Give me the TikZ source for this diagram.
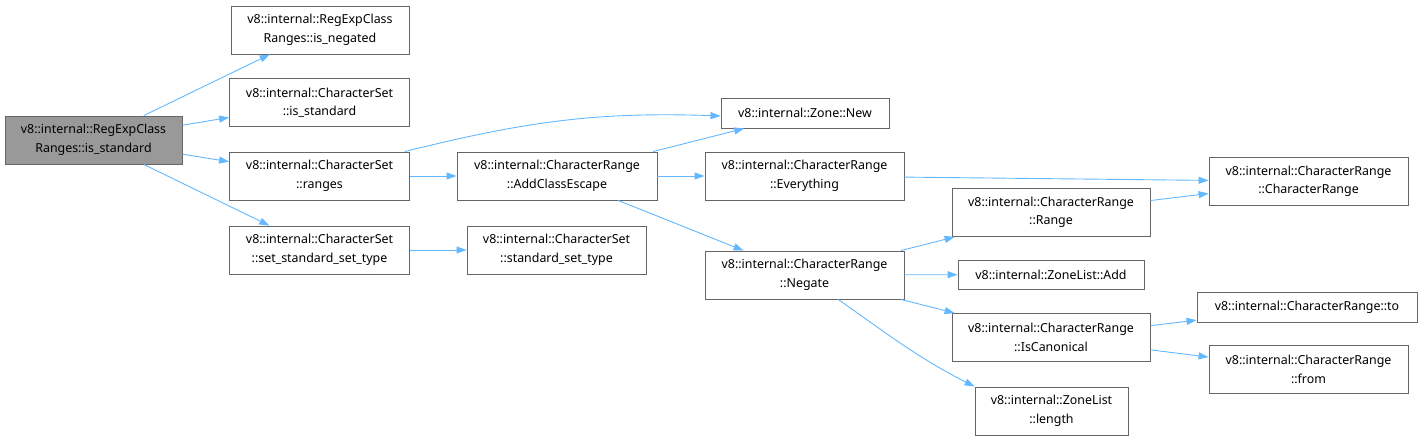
\documentclass[tikz,border=0pt]{standalone}
\usepackage{fontspec}
\setmainfont{Noto Sans}
\usetikzlibrary{arrows.meta}
\definecolor{edgeblue}{HTML}{63B8FF}
\definecolor{boxgray}{HTML}{666666}
\definecolor{maingray}{HTML}{999999}
\begin{document}
\begin{tikzpicture}[x=1pt,y=-1pt,>={Triangle[length=10pt,width=7pt]},
    fn/.style={draw=boxgray,line width=0.9pt,align=center,inner sep=0pt,minimum height=48pt,
        font=\fontsize{12.4}{18.5}\selectfont},
    edge/.style={->,draw=edgeblue,line width=0.9pt}]
    \useasboundingbox (0,0) rectangle (1426,441);
    \node[fn,fill=maingray,minimum width=177pt] (main) at (93.5,140) {v8::internal::RegExpClass\\Ranges::is\_standard};
    \node[fn,minimum width=178pt] (negated) at (320,30) {v8::internal::RegExpClass\\Ranges::is\_negated};
    \node[fn,minimum width=180pt] (csstd) at (319.5,102.5) {v8::internal::CharacterSet\\::is\_standard};
    \node[fn,minimum width=180pt] (ranges) at (319.5,176) {v8::internal::CharacterSet\\::ranges};
    \node[fn,minimum width=180pt] (setstd) at (319.5,250) {v8::internal::CharacterSet\\::set\_standard\_set\_type};
    \node[fn,minimum width=179pt] (stdtype) at (556.5,250) {v8::internal::CharacterSet\\::standard\_set\_type};
    \node[fn,minimum width=200pt] (addesc) at (557,176) {v8::internal::CharacterRange\\::AddClassEscape};
    \node[fn,minimum width=168pt,minimum height=30pt] (zonenew) at (805,113) {v8::internal::Zone::New};
    \node[fn,minimum width=199pt] (every) at (804.5,176) {v8::internal::CharacterRange\\::Everything};
    \node[fn,minimum width=199pt] (negate) at (804.5,275) {v8::internal::CharacterRange\\::Negate};
    \node[fn,minimum width=199pt] (crange) at (1308.5,181.5) {v8::internal::CharacterRange\\::CharacterRange};
    \node[fn,minimum width=198pt] (range) at (1051,212.5) {v8::internal::CharacterRange\\::Range};
    \node[fn,minimum width=186pt,minimum height=29pt] (add) at (1051,274.5) {v8::internal::ZoneList::Add};
    \node[fn,minimum width=198pt] (iscanon) at (1051,337.5) {v8::internal::CharacterRange\\::IsCanonical};
    \node[fn,minimum width=220pt,minimum height=30pt] (to) at (1307,307) {v8::internal::CharacterRange::to};
    \node[fn,minimum width=199pt] (from) at (1308.5,369.5) {v8::internal::CharacterRange\\::from};
    \node[fn,minimum width=153pt] (length) at (1051.5,411) {v8::internal::ZoneList\\::length};
    % calls
    \foreach \a/\b in {main/negated, main/csstd, main/ranges, main/setstd, ranges/addesc,
        setstd/stdtype, addesc/zonenew, addesc/every, addesc/negate, every/crange,
        range/crange, negate/range, negate/add, negate/iscanon, iscanon/to, iscanon/from}
    {
        \draw[edge](\a)--(\b);
    }
    \draw[edge](ranges.16) to[out=14,in=178] (zonenew.182);
    \draw[edge](negate.-36) to[out=-35,in=153] (length.north west);
\end{tikzpicture}
\end{document}
